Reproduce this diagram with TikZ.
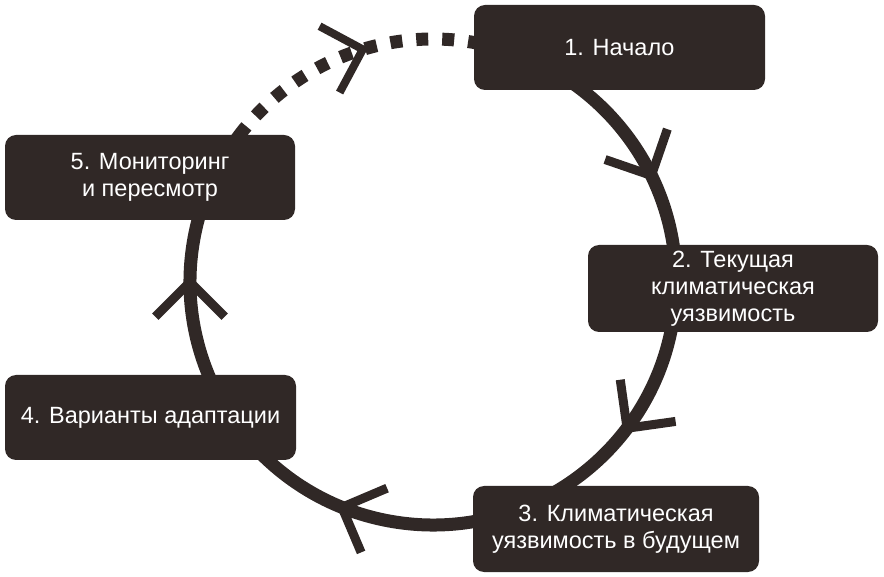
\documentclass[tikz,border=0pt]{standalone}
\usepackage{fontspec}
\setmainfont{Liberation Sans}
\definecolor{ink}{RGB}{48,40,38}
\begin{document}
\begin{tikzpicture}[x=1pt,y=1pt,
  stagebox/.style={fill=ink, text=white, rounded corners=11pt, align=center, inner sep=0pt,
    font=\fontsize{23.5}{27}\selectfont},
  ring/.style={draw=ink, line width=13pt},
  ringdash/.style={draw=ink, line width=13pt, dash pattern=on 12pt off 14pt},
  chev/.style={draw=ink, line width=9pt, line cap=butt, line join=miter}]
\useasboundingbox (0,0) rectangle (884,576);
\coordinate (c) at (433,294);
% ring
\draw[ring] (c) ++(80.3:243pt) arc[start angle=80.3, end angle=-217.2, radius=243pt];
\draw[ringdash] (c) ++(143:243pt) arc[start angle=143, end angle=80, radius=243pt];
% chevrons
\foreach \a/\w in {106.8/8, 26/9, -37/9, -112/9, 180/9}{
  \pgfmathsetmacro\aa{\a+45}
  \pgfmathsetmacro\ab{\a+135}
  \path (c) ++(\a:243pt) coordinate (t);
  \draw[chev, line width=\w pt] (t) ++(\aa:49pt) -- (t) -- ++(\ab:49pt);
}
% boxes
\node[stagebox, minimum width=291pt, minimum height=85pt] (n1) at (619.5,528.5) {1. Начало};
\node[stagebox, minimum width=290pt, minimum height=87pt] (n2) at (733,287.5) {2. Текущая\\климатическая\\уязвимость};
\node[stagebox, minimum width=286pt, minimum height=86pt] (n3) at (616,47) {3. Климатическая\\уязвимость в будущем};
\node[stagebox, minimum width=291pt, minimum height=85pt] (n4) at (150.5,158.5) {4. Варианты адаптации};
\node[stagebox, minimum width=290pt, minimum height=85pt] (n5) at (150,398.5) {5. Мониторинг\\и пересмотр};
\end{tikzpicture}
\end{document}
